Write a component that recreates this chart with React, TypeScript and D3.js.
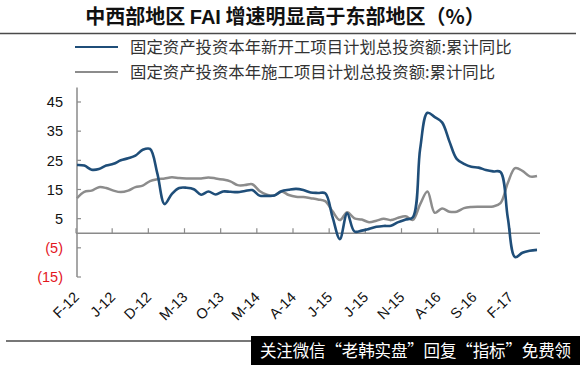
import * as d3 from "d3";

// monthly, F-12 .. M-17 (cumulative yoy, %)
const newStarts = [
  23.4, 23.2, 21.8, 22.0, 23.2, 23.8, 25.0, 25.7, 26.6, 28.6,
  28.9, 20.5, 10.0, 13.5, 15.5, 15.6, 15.1, 13.2, 14.3, 13.3,
  14.3, 14.2, 14.1, 14.5, 14.8, 12.9, 12.8, 12.9, 14.4, 14.9,
  15.2, 14.8, 14.0, 13.8, 13.7, 5.5, -2.0, 6.8, 0.6, 0.9,
  1.5, 2.2, 2.5, 2.6, 3.8, 4.7, 5.5, 29.0, 41.3, 39.8,
  38.0, 31.5, 25.5, 23.8, 22.8, 22.5, 21.7, 21.2, 21.0, 5.3,
  -8.2, -6.7, -6.0, -5.7,
];
const underConstruction = [
  12.0, 14.2, 14.6, 15.8, 15.5, 14.6, 14.1, 14.6, 15.8, 16.3,
  17.9, 18.5, 18.8, 19.2, 18.9, 18.8, 18.8, 18.8, 19.1, 18.8,
  18.4, 17.8, 16.5, 16.5, 16.8, 14.5, 13.2, 12.9, 14.3, 13.1,
  12.5, 12.4, 12.0, 11.6, 11.0, 7.5, 4.5, 7.2, 5.1, 4.7,
  3.8, 4.3, 5.0, 4.5, 5.3, 5.8, 4.6, 10.0, 14.3, 7.0,
  8.5, 7.4, 7.4, 8.6, 9.0, 9.1, 9.1, 9.2, 10.3, 17.2,
  22.3, 21.4, 19.5, 19.6,
];
const tickLabels = ["F-12", "J-12", "D-12", "M-13", "O-13", "M-14", "A-14", "J-15", "J-15", "N-15", "A-16", "S-16", "F-17"];
const yTicks = [-15, -5, 5, 15, 25, 35, 45];
const seriesNames = [
  "固定资产投资本年新开工项目计划总投资额:累计同比",
  "固定资产投资本年施工项目计划总投资额:累计同比",
];

const BLUE = "#1f4e79";
const GREY = "#8c8c8c";
const AXIS = "#8a8a8a";
const latin = "'Liberation Sans', Arial, sans-serif";
const cjk = "'Noto Sans CJK SC', sans-serif";

export default function App() {
  const x = d3.scaleLinear().domain([0, newStarts.length - 1]).range([77, 537]);
  // a tick every 5 months
  const xt = d3.scaleLinear().domain([0, tickLabels.length - 1]).range([76, 510]);
  const y = d3.scaleLinear().domain([-15, 50]).range([277, 87.4]);

  const line = d3
    .line<number>()
    .x((_, i) => x(i))
    .y((d) => y(d))
    .curve(d3.curveCatmullRom.alpha(0.5));

  const fmt = (v: number) => (v < 0 ? `(${-v})` : `${v}`);

  return (
    <svg width={580} height={365} style={{ position: "absolute", left: 0, top: 0 }}>
      <rect width={580} height={365} fill="#fff" />

      {/* title */}
      <text x={285} y={24} textAnchor="middle" fontFamily={cjk} fontWeight={700} fontSize={20} fill="#111">
        中西部地区 <tspan fontFamily={latin} fontWeight={700}>FAI</tspan> 增速明显高于东部地区（%）
      </text>
      <line x1={0} x2={576} y1={33.5} y2={33.5} stroke="#4a4a4a" strokeWidth={1.6} />

      {/* legend */}
      {seriesNames.map((name, i) => (
        <g key={name} transform={`translate(0,${47 + i * 25})`}>
          <line x1={75} x2={118} y1={0} y2={0} stroke={i === 0 ? BLUE : GREY} strokeWidth={2} />
          <text x={130} y={5.5} fontFamily={cjk} fontSize={16.4} fill="#333">
            {name}
          </text>
        </g>
      ))}

      {/* y axis */}
      <line x1={77} x2={77} y1={y(50)} y2={y(-15)} stroke={AXIS} strokeWidth={1.5} />
      {yTicks.map((t) => (
        <g key={t}>
          <line x1={77} x2={81} y1={y(t)} y2={y(t)} stroke={AXIS} strokeWidth={1.2} />
          <text
            x={63}
            y={y(t)}
            dy="0.36em"
            textAnchor="end"
            fontFamily={latin}
            fontSize={14.5}
            fill={t < 0 ? "#e3161d" : "#111"}
          >
            {fmt(t)}
          </text>
        </g>
      ))}

      {/* x axis at zero */}
      <line x1={76} x2={540} y1={y(0)} y2={y(0)} stroke={AXIS} strokeWidth={1.6} />
      {tickLabels.map((lab, i) => (
        <g key={i}>
          <line x1={xt(i)} x2={xt(i)} y1={y(0)} y2={y(0) - 5} stroke={AXIS} strokeWidth={1.2} />
          <text
            transform={`translate(${xt(i) + 4},298) rotate(-45)`}
            textAnchor="end"
            fontFamily={latin}
            fontSize={14.5}
            fill="#111"
          >
            {lab}
          </text>
        </g>
      ))}

      {/* series */}
      <path d={line(underConstruction) ?? ""} fill="none" stroke={GREY} strokeWidth={2.5} strokeLinejoin="round" />
      <path d={line(newStarts) ?? ""} fill="none" stroke={BLUE} strokeWidth={2.6} strokeLinejoin="round" />

      {/* footer */}
      <line x1={6} x2={252} y1={341} y2={341} stroke="#4a4a4a" strokeWidth={1.6} />
      <rect x={251} y={336} width={329} height={29} fill="#000" />
      <text x={260} y={357} fontFamily={cjk} fontSize={16.5} fill="#fff" textLength={311}>
        关注微信“老韩实盘”回复“指标”免费领
      </text>
    </svg>
  );
}
